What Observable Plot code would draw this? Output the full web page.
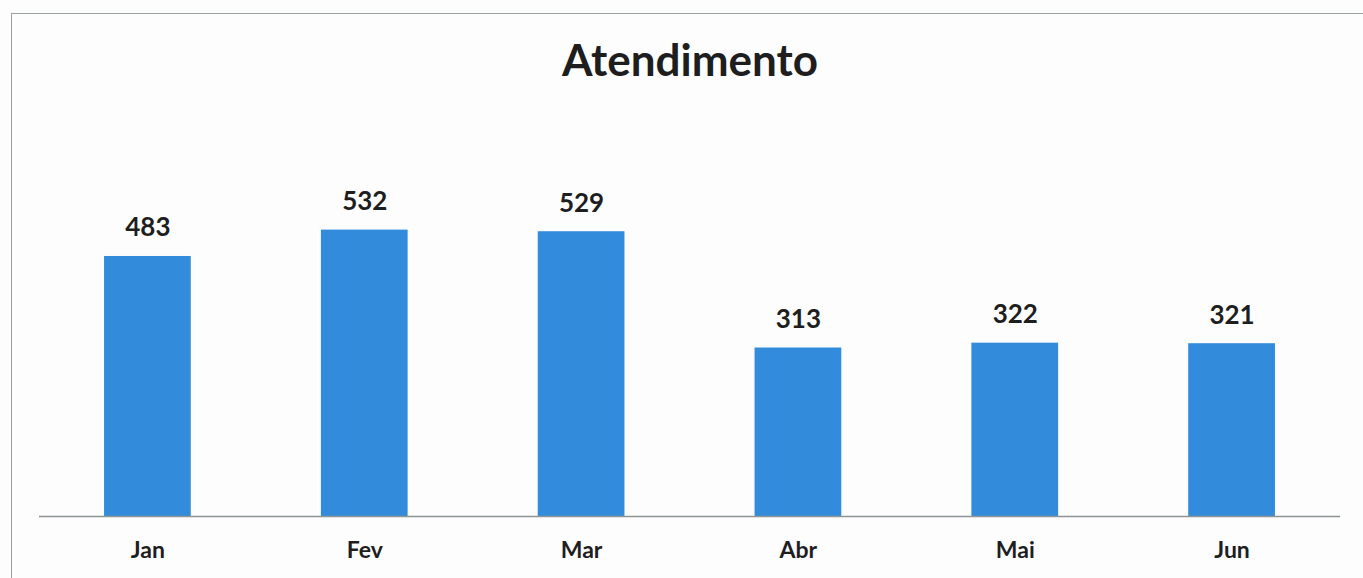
<!DOCTYPE html>
<html>
<head>
<meta charset="utf-8">
<script src="https://cdn.jsdelivr.net/npm/d3@7"></script>
<script src="https://cdn.jsdelivr.net/npm/@observablehq/plot@0.6"></script>
<style>
  html, body { margin: 0; padding: 0; background: #fdfdfe; }
  #wrap { position: relative; width: 1363px; height: 578px; overflow: hidden; font-family: Lato, "Open Sans", sans-serif; }
  #frame { position: absolute; left: 11px; top: 13px; width: 1400px; height: 600px; border-left: 1.5px solid #9aa0a0; border-top: 1.5px solid #9aa0a0; }
  #title { position: absolute; left: 0; top: 0; width: 1380px; height: 100px; line-height: 118px; text-align: center; font-weight: bold; font-size: 44px; color: #1e1e1e; }
  #chart { position: absolute; left: 0; top: 100px; }
</style>
</head>
<body>
<div id="wrap">
  <div id="frame"></div>
  <div id="title">Atendimento</div>
  <div id="chart"></div>
</div>
<script>
const months = ["Jan", "Fev", "Mar", "Abr", "Mai", "Jun"];
const values = [483, 532, 529, 313, 322, 321];

const data = months.map((m, i) => ({month: m, value: values[i]}));

const chart = Plot.plot({
  width: 1363,
  height: 478,
  marginLeft: 39,
  marginRight: 23,
  marginTop: 93,
  marginBottom: 62,
  style: {fontFamily: "Lato, 'Open Sans', sans-serif", background: "transparent", color: "#1e1e1e"},
  x: {domain: months, paddingInner: 0.6, paddingOuter: 0.3, round: false, label: null},
  y: {domain: [0, 600], axis: null},
  marks: [
    Plot.barY(data, {x: "month", y: "value", fill: "#338cdb"}),
    Plot.ruleY([0], {stroke: "#8f9494", strokeWidth: 1.5}),
    Plot.text(data, {x: "month", y: "value", text: d => String(d.value), lineAnchor: "bottom", dy: -20, fontSize: 26, fontWeight: "bold", fill: "#1e1e1e"}),
    Plot.axisX({tickSize: 0, tickPadding: 25, fontSize: 23, fontWeight: "bold", label: null})
  ]
});
document.getElementById("chart").appendChild(chart);
</script>
</body>
</html>
